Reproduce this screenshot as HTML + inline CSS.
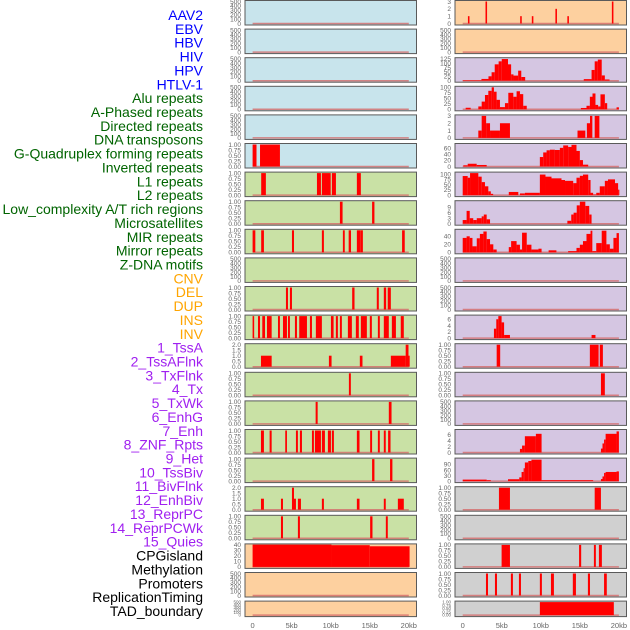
<!DOCTYPE html>
<html><head><meta charset="utf-8"><style>
body{margin:0;background:#fff;}
svg{display:block;font-family:"Liberation Sans",sans-serif;}
</style></head><body>
<svg id="chart" width="630" height="630" viewBox="0 0 630 630"></svg>
<script>
// ---------- data ----------
const trackLabels = ["AAV2","EBV","HBV","HIV","HPV","HTLV-1","Alu repeats","A-Phased repeats","Directed repeats","DNA transposons","G-Quadruplex forming repeats","Inverted repeats","L1 repeats","L2 repeats","Low_complexity A/T rich regions","Microsatellites","MIR repeats","Mirror repeats","Z-DNA motifs","CNV","DEL","DUP","INS","INV","1_TssA","2_TssAFlnk","3_TxFlnk","4_Tx","5_TxWk","6_EnhG","7_Enh","8_ZNF_Rpts","9_Het","10_TssBiv","11_BivFlnk","12_EnhBiv","13_ReprPC","14_ReprPCWk","15_Quies","CPGisland","Methylation","Promoters","ReplicationTiming","TAD_boundary"];
const labelGroups = [6,13,5,15,5];
const groupColors = ["#0000ff","#006400","#ffa500","#a020f0","#000000"];
const xTicks = [0,5,10,15,20];
const xTickLabels = ["0","5kb","10kb","15kb","20kb"];
const bgLeft = ["b","b","b","b","b","b","g","g","g","g","g","g","g","g","g","g","g","g","g","o","o","o"];
const bgRight = ["o","o","p","p","p","p","p","p","p","p","p","p","p","p","p","p","p","y","y","y","y","y"];
const tickSetLeft = ["E","E","E","E","E","B","B","B","B","E","B","B","T2","B","B","B","B","T2","B","T40","E","E"];
const tickSetRight = ["T3","E","T125","T100","T3","T60","T100b","T9","T40b","E","E","T6","B","B","E","T6b","T90","B","E","B","B","B"];
const tickVals = {E:[0,100,200,300,400,500],B:[0,0.25,0.5,0.75,1],T2:[0,0.5,1,1.5,2],T40:[0,10,20,30,40],T3:[0,1,2,3],T125:[0,25,50,75,100,125],T100:[0,25,50,75,100],T60:[0,20,40,60],T100b:[0,25,50,75,100],T9:[0,3,6,9],T40b:[0,20,40],T6:[0,2,4,6],T6b:[0,2,4,6],T90:[0,30,60,90]};
const tickMax = {E:500,B:1,T2:2,T40:40,T3:3,T125:125,T100:100,T60:72,T100b:105,T9:12,T40b:55,T6:7,T6b:7.3,T90:118};
const tickDigits = {B:2,T2:1};
// segments [startKb, endKb, value]
const segLeft = [
 [],[],[],[],[],
 [[0,0.5,1],[0.95,3.5,1]],
 [[1.1,1.7,1],[8.24,8.75,1],[8.87,10,1],[10.15,10.67,1],[13.35,13.86,1]],
 [[11.18,11.52,1],[15.3,15.6,1]],
 [[0,0.35,1],[1.1,1.45,1],[5.04,5.3,1],[8.87,9.13,1],[11.56,11.8,1],[12.3,12.6,1],[13.35,13.8,1],[13.82,14.12,1],[19.14,19.48,1]],
 [],
 [[4.27,4.53,1],[4.78,5.04,1],[12.75,13.05,1],[15.9,16.16,1],[16.8,17.1,1],[17.3,17.7,1]],
 [[0,0.2,1],[0.69,0.95,1],[1.24,1.59,1],[1.84,2.44,1],[3.25,3.5,1],[3.89,4.4,1],[4.53,4.78,1],[5.42,5.68,1],[5.97,6.96,1],[7.34,7.6,1],[8.1,8.87,1],[10.03,10.37,1],[10.66,10.92,1],[11.18,11.43,1],[12.2,12.71,1],[13.22,13.6,1],[13.86,14.63,1],[15.01,15.27,1],[16.04,16.29,1],[16.8,17.44,1],[17.83,18.35,1],[18.97,19.36,1]],
 [[1.07,2.44,1],[9.77,10.11,1],[13.73,14.07,1],[17.7,19.6,1],[19.6,19.96,2],[19.96,20.05,1]],
 [[12.33,12.58,1]],
 [[8.07,8.33,1],[17.44,17.79,1]],
 [[1.07,1.45,1],[2.18,2.44,1],[4.18,4.4,1],[5.55,5.8,1],[6.06,6.32,1],[7.6,7.85,1],[7.98,8.75,1],[8.87,9.26,1],[9.64,10.03,1],[10.15,10.41,1],[13.35,13.69,1],[15.05,15.3,1],[16.04,16.29,1],[16.8,17.05,1],[17.35,17.66,1]],
 [[15.3,15.6,1],[17.6,17.9,1]],
 [[1.07,1.45,1],[3.63,3.89,1],[5.04,5.3,2],[5.3,5.55,1],[5.8,6.19,1],[8.87,9.13,1],[13.35,13.69,1],[16.8,17.05,1],[18.6,19.36,1]],
 [[3.63,3.89,1],[5.8,6.06,1],[15.05,15.35,1],[17.06,17.31,1]],
 [[0,10.1,40.5],[10.1,15,39.5],[15,20.1,37.5]],
 [],[]
];
const segRight = [
 [[0.67,0.87,1],[2.92,3.12,3],[7.36,7.56,1],[8.85,9.05,1],[11.87,12.07,2],[13.4,13.6,1],[19.1,19.3,3]],
 [],
 [[0,2.4,3],[2.4,3.3,10],[3.3,3.7,25],[3.7,4.1,48],[4.1,4.6,93],[4.6,5,110],[5,5.8,123],[5.8,6.2,93],[6.2,6.5,36],[6.5,7.1,29],[7.1,7.5,57],[7.5,8,21],[15.5,16.5,9],[16.5,16.9,61],[16.9,17.3,110],[17.3,17.8,120],[17.8,18.2,30],[18.2,18.8,7]],
 [[0.38,1.02,7],[2,2.43,13],[2.43,2.85,35],[2.85,3.28,65],[3.28,3.71,84],[3.71,4,100],[4,4.34,80],[4.34,4.77,43],[4.77,5.41,10],[5.41,5.84,28],[5.84,6.48,75],[6.48,6.9,57],[6.9,7.33,82],[7.33,7.75,69],[7.75,8.2,16],[15.13,15.85,6],[15.85,16.28,16],[16.28,16.62,57],[16.62,17,72],[17,17.34,20],[17.34,17.64,13],[17.64,18.2,68],[18.2,18.5,28],[19.7,20,9]],
 [[2,2.43,1],[2.43,3,3],[3,3.5,2],[3.5,4.77,1],[4.77,6.05,2],[14.7,15.7,1],[15.9,16.3,2],[16.3,16.6,3],[16.9,17.5,3]],
 [[0.08,0.64,4],[0.64,1.79,9],[1.79,3.07,5],[9.88,10.31,31],[10.31,10.74,46],[10.74,11.16,53],[11.16,11.8,55],[11.8,12.44,54],[12.44,12.87,61],[12.87,13.5,69],[13.5,13.93,64],[13.93,14.57,71],[14.57,15,51],[15,15.4,21],[15.4,16.07,6]],
 [[0,0.64,91],[0.64,0.94,83],[0.94,2,105],[2,2.43,88],[2.43,2.85,62],[2.85,3.28,42],[3.28,3.6,18],[3.6,3.9,6],[5.9,7.12,15],[7.33,7.96,8],[7.96,9.88,11],[9.88,10.6,98],[10.6,11.37,88],[11.37,12.65,80],[12.65,13.1,72],[13.1,14.15,68],[14.15,14.57,57],[14.57,15,83],[15,15.4,92],[15.4,16.07,98],[16.07,16.37,72],[16.37,16.7,11],[16.7,17.1,3],[17.1,17.55,11],[17.55,18.2,42],[18.2,18.6,68],[18.6,19.5,75],[19.5,19.9,57],[19.9,20,26]],
 [[0,0.5,2],[0.5,0.9,7],[0.9,1.35,3],[1.35,1.8,2],[1.8,2.43,3],[2.43,2.7,4],[2.7,3.07,5],[3.07,3.5,2.4],[13.4,13.9,1.6],[13.9,14.2,5],[14.2,14.6,6],[14.6,15,10],[15,15.7,12],[15.7,16.2,9.7],[16.2,16.5,5]],
 [[0,0.5,36],[0.5,0.9,40],[0.9,1.25,36],[1.25,1.8,15],[1.8,2.2,35],[2.2,2.65,46],[2.65,3.07,52],[3.07,3.5,33],[3.5,3.92,20],[3.92,4.35,7],[5.9,6.2,13],[6.2,6.9,28],[6.9,7.33,19],[7.33,7.6,7],[7.6,8.2,49],[8.2,8.8,19],[8.8,9.7,7],[9.7,10.1,9],[11,12,5],[13.5,14.57,3],[14.57,15,11],[15,15.4,19],[15.4,15.85,28],[15.85,16.37,46],[16.37,16.6,54],[16.6,17.1,3],[17.1,17.8,23],[17.8,18.4,54],[18.4,18.84,20],[18.84,19.3,9],[19.3,19.7,36],[19.7,20,48]],
 [],[],
 [[4,4.3,3],[4.3,4.56,6],[4.56,4.98,7],[4.98,5.3,5],[5.3,6.05,1],[16.5,17,1]],
 [[4.35,4.8,1],[16.28,17.4,1],[17.55,17.95,1]],
 [[17.7,18.2,1]],
 [],
 [[7.33,7.6,1.2],[7.6,7.96,2.3],[7.96,9.37,5.4],[9.37,10.1,6.2],[17.7,17.9,1.3],[17.9,18.1,3],[18.1,18.3,4.3],[18.3,19.7,6.2],[19.7,20,7]],
 [[0,3.07,8],[3.07,3.6,5],[5.8,7.24,10],[7.24,7.54,20],[7.54,7.8,49],[7.8,7.96,69],[7.96,8.4,100],[8.4,8.8,108],[8.8,10.1,115],[10.1,16.7,5],[17.7,17.9,11],[17.9,18.1,25],[18.1,18.3,44],[18.3,19.7,49],[19.7,20,52]],
 [[4.64,6.05,1],[16.9,17.7,1]],
 [],
 [[4.98,6.05,1],[14.9,15.17,1],[16.8,17.05,1],[17.44,17.82,1]],
 [[2.98,3.24,1],[4.13,4.39,1],[6.17,6.43,1],[7.2,7.46,1],[9.88,10.14,1],[11.3,11.68,1],[14.1,14.5,1],[16.03,16.3,1],[18.1,18.45,1]],
 [[9.88,19.35,1]]
];
// ---------- drawing ----------
const NS = "http://www.w3.org/2000/svg";
const svg = document.getElementById("chart");
const BG = {b:"#c8e4ec",g:"#c9e1a5",o:"#fdd09f",p:"#d5c6e2",y:"#d0d0d0"};
function mk(tag, attrs, parent){const e=document.createElementNS(NS,tag);for(const k in attrs)e.setAttribute(k,attrs[k]);(parent||svg).appendChild(e);return e;}
const cols = [{px:245,pw:171.5,x0:252.6,side:"left"},{px:455,pw:171.5,x0:462.7,side:"right"}];
const KB = 7.81;
function xScale(col,kb){return col.x0+kb*KB;}
function rowTop(i){return i*28.6;}
function rowH(i){return i===21?16:25;}

// labels
let li=0;
labelGroups.forEach((n,gi)=>{
  for(let k=0;k<n;k++){
    const t=mk("text",{x:203,y:15+li*13.86+5,"text-anchor":"end","font-size":"14",fill:groupColors[gi]});
    
    
    t.textContent=trackLabels[li];li++;
  }
});

for(let r=0;r<22;r++){
  cols.forEach((col,ci)=>{
    const bg = ci===0?bgLeft[r]:bgRight[r];
    const ts = ci===0?tickSetLeft[r]:tickSetRight[r];
    const segs = ci===0?segLeft[r]:segRight[r];
    const T=rowTop(r),H=rowH(r);
    const y0=T+H-1.5, y1=T+1.5, ymax=tickMax[ts];
    const yS=v=>y0-(v/ymax)*(y0-y1);
    const g=mk("g",{});
    
    
    const rect=mk("rect",{x:col.px,y:T+0.5,width:col.pw,height:H-0.5,fill:BG[bg],stroke:"#5a5a5a","stroke-width":1},g);
    
    
    // baseline
    const bl=mk("line",{x1:xScale(col,0),x2:xScale(col,20),y1:y0,y2:y0,stroke:"#d46a6a","stroke-width":1.5,"stroke-opacity":0.8},g);
    
    
    segs.forEach(s=>{
      const xa=xScale(col,Math.max(0,s[0])),xb=xScale(col,s[1]);
      const b=mk("rect",{x:xa,y:yS(s[2]),width:Math.max(1.2,xb-xa),height:y0-yS(s[2]),fill:"#ff0000"},g);
      
      
    });
    // y ticks
    const fs = H<20?4.5:6.5;
    tickVals[ts].forEach(v=>{
      const d=tickDigits[ts];
      const t=mk("text",{x:col.px-4,y:yS(v)+fs*0.36,"text-anchor":"end","font-size":fs,fill:"#666"},g);
      
      
      t.textContent = d!==undefined ? v.toFixed(d) : String(v);
    });
  });
}
// x axes
cols.forEach(col=>{
  xTicks.forEach((v,i)=>{
    const t=mk("text",{x:xScale(col,v),y:628,"text-anchor":"middle","font-size":"7.5",fill:"#666"});
    
    
    t.textContent=xTickLabels[i];
  });
});
</script>
</body></html>
